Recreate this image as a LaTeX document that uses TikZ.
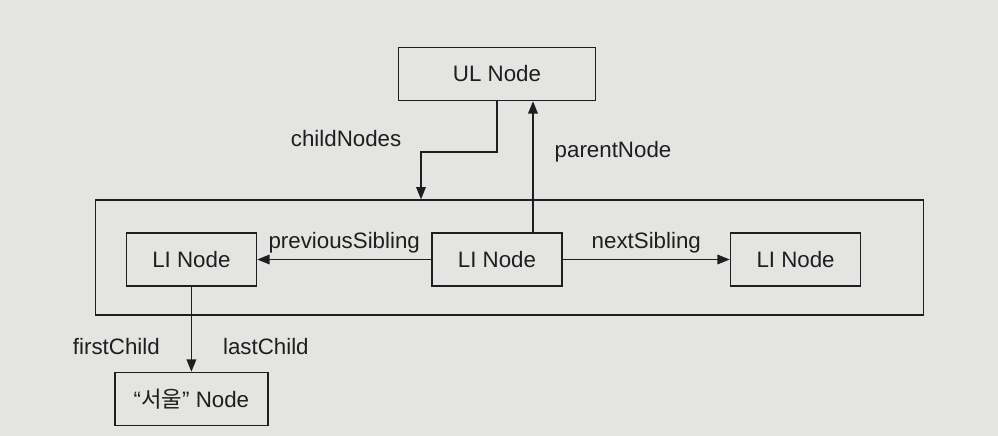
\documentclass[tikz,border=0pt]{standalone}
\usepackage{fontspec}
\setmainfont{Liberation Sans}
\newfontfamily\krfont{Noto Sans CJK KR}
\usetikzlibrary{positioning,fit,arrows.meta,calc}
\definecolor{paper}{RGB}{228,228,226}
\definecolor{ink}{RGB}{30,30,30}
\tikzset{every node/.append style={font=\fontsize{12.7}{15}\selectfont, text=ink}}

\begin{document}
\begin{tikzpicture}
		\tikzstyle{domnode} = [rectangle, minimum width=2.6cm, minimum height=1.06cm, text centered, draw=ink, line width=0.9pt];
		\tikzstyle{rootnode} = [domnode, minimum width=3.94cm];
		\tikzstyle{textnode} = [domnode, minimum width=3.06cm];
		\tikzstyle{groupbox} = [draw=ink, line width=0.9pt, inner sep=0pt];
		\tikzstyle{link} = [draw=ink, line width=0.9pt, -{Triangle[length=7pt, width=5.4pt]}];
		\fill[paper] (0,0) rectangle (19.96,-8.72);
		\useasboundingbox (0,0) rectangle (19.96,-8.72);
		\node (midli) [domnode] at (9.94,-5.19) {LI Node};
		\node (prevli) [domnode, left=3.48cm of midli] {LI Node};
		\node (nextli) [domnode, right=3.34cm of midli] {LI Node};
		\node (ulnode) [rootnode, above=2.62cm of midli] {UL Node};
		\node (seoul) [textnode, below=1.7cm of prevli] {“{\krfont 서울}” Node};
		\coordinate (boxnw) at ($(prevli.north west)+(-0.6,0.64)$);
		\coordinate (boxse) at ($(nextli.south east)+(1.24,-0.56)$);
		\node[groupbox, fit=(boxnw) (boxse)] (libox) {};
		\coordinate (childin) at ($(midli.north |- libox.north)+(-1.52,0)$);
		\coordinate (parentout) at ($(midli.north)+(0.72,0)$);
		\draw[link] (ulnode.south) -- ++(0,-1.02) -| (childin);
		\draw[link] (parentout) -- (parentout |- ulnode.south);
		\draw[link] (midli) -- node[above] {previousSibling} (prevli);
		\draw[link] (midli) -- node[above] {nextSibling} (nextli);
		\draw[link] (prevli) -- node[pos=0.7, left=0.5cm] {firstChild} node[pos=0.7, right=0.5cm] {lastChild} (seoul);
		\node (childlbl) [anchor=east] at ($(childin |- ulnode.south)+(-0.27,-0.74)$) {childNodes};
		\node (parentlbl) [right=0.31cm] at ($(parentout |- ulnode.south)+(0,-1.02)$) {parentNode};
	\end{tikzpicture}
\end{document}
